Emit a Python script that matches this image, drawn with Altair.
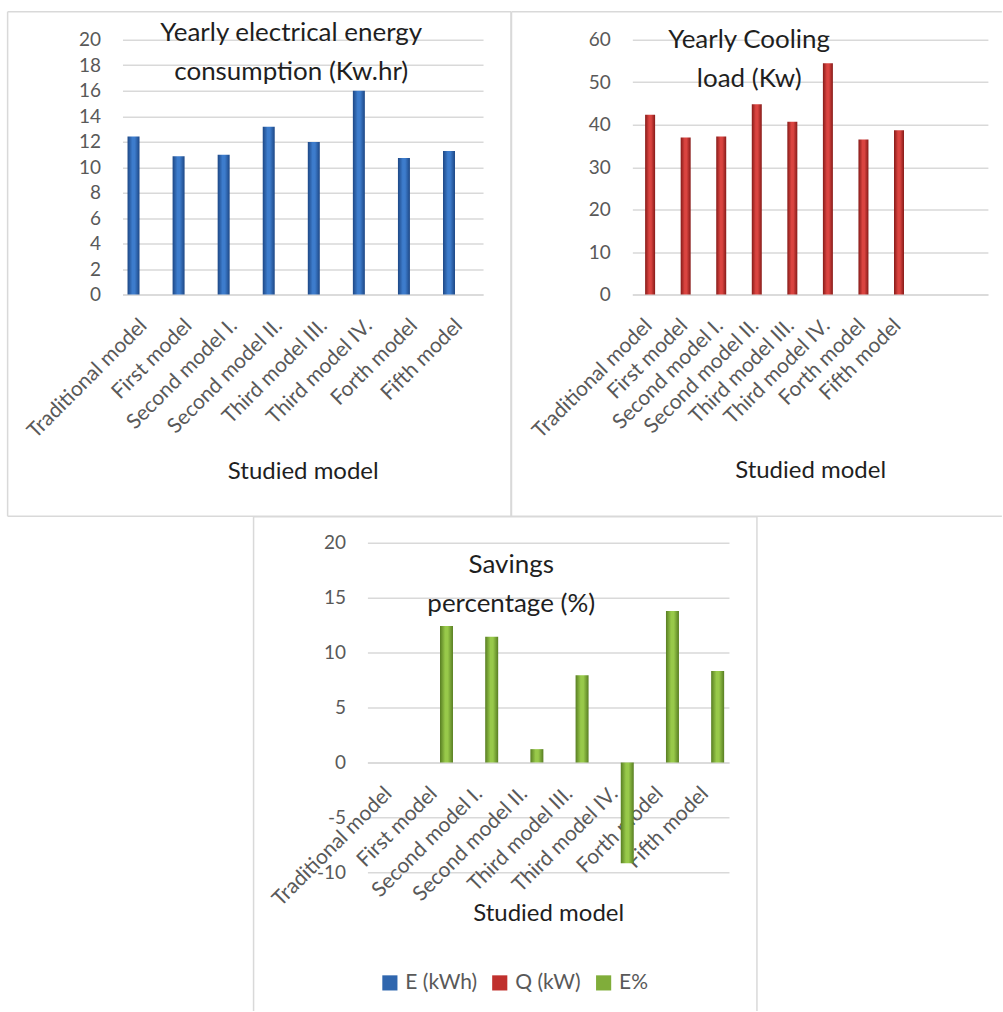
import altair as alt
import pandas as pd

# Studied building models and the three yearly results
models = ["Traditional model", "First model", "Second model I.", "Second model II.",
          "Third model III.", "Third model IV.", "Forth model", "Fifth model"]
energy_kwh = [12.4, 10.85, 10.98, 13.18, 11.98, 16.0, 10.72, 11.27]
cooling_kw = [42.35, 37.0, 37.2, 44.8, 40.7, 54.5, 36.5, 38.7]
savings_pct = [0.0, 12.42, 11.45, 1.21, 7.94, -9.18, 13.79, 8.33]

series_names = ["E (kWh)", "Q (kW)", "E%"]
series_colors = ["#2f66ae", "#c0302d", "#80ad3a"]

energy_ticks = [0, 2, 4, 6, 8, 10, 12, 14, 16, 18, 20]
cooling_ticks = [0, 10, 20, 30, 40, 50, 60]
savings_ticks = [-10, -5, 0, 5, 10, 15, 20]

# the cooling chart keeps two trailing empty category slots
cooling_slots = models + [" ", "  "]

FONT = "Lato"
LABEL_GREY = "#595959"
GRID_GREY = "#d9d9d9"
TEXT_DARK = "#1f1f1f"


def bevel(dark, light):
    return alt.LinearGradient(
        gradient="linear", x1=0, x2=1, y1=0, y2=0,
        stops=[alt.GradientStop(offset=0, color=dark),
               alt.GradientStop(offset=0.4, color=light),
               alt.GradientStop(offset=0.6, color=light),
               alt.GradientStop(offset=1, color=dark)])


def single_row():
    return alt.Data(values=[{"k": 0}])


def edge(x1, x2, y1, y2, color=GRID_GREY):
    """One straight border line of a chart box, in pixels of the plot area."""
    return alt.Chart(single_row()).mark_rule(
        color=color, strokeWidth=1.5).encode(
        x=alt.value(x1), x2=alt.value(x2), y=alt.value(y1), y2=alt.value(y2))


def box(left, right, top, bottom, sides="tblr"):
    parts = []
    if "t" in sides:
        parts.append(edge(left, right, top, top))
    if "b" in sides:
        parts.append(edge(left, right, bottom, bottom))
    if "l" in sides:
        parts.append(edge(left, left, top, bottom))
    if "r" in sides:
        parts.append(edge(right, right, top, bottom))
    return parts


def bar_panel(values, domain, ticks, fill, bar_size, shift,
              title_lines, title_x, title_y, axis_offset, axis_title_y):
    df = pd.DataFrame({"model": models, "value": values})
    x = alt.X(
        "model:N", sort=domain,
        scale=alt.Scale(domain=domain, paddingInner=0, paddingOuter=0),
        axis=alt.Axis(title="Studied model", labelAngle=-45, labelColor=LABEL_GREY,
                      labelFontSize=21, labelFont=FONT, labelPadding=20,
                      labelOffset=-9, labelAlign="right", labelBaseline="top",
                      ticks=False, domain=True, domainColor=GRID_GREY, domainWidth=1.5,
                      offset=axis_offset, titleFont=FONT, titleFontSize=24,
                      titleFontWeight="normal", titleColor=TEXT_DARK,
                      titleY=axis_title_y, titleBaseline="middle"))
    y = alt.Y(
        "value:Q",
        scale=alt.Scale(domain=[ticks[0], ticks[-1]], nice=False, zero=False),
        axis=alt.Axis(title=None, values=ticks, labelExpr="'' + datum.value",
                      labelColor=LABEL_GREY, labelFontSize=19, labelFont=FONT,
                      labelPadding=22, ticks=False, domain=False,
                      gridColor=GRID_GREY, gridWidth=1.5))
    bars = alt.Chart(df).mark_bar(fill=fill, size=bar_size, xOffset=shift).encode(x=x, y=y)
    heading = alt.Chart(single_row()).mark_text(
        font=FONT, fontSize=26, color=TEXT_DARK, lineHeight=39,
        align="center", baseline="middle").encode(
        x=alt.value(title_x), y=alt.value(title_y), text=alt.value(title_lines))
    return bars, heading


b1, h1 = bar_panel(energy_kwh, models, energy_ticks,
                   bevel("#1d4785", "#3d7ccc"), 12, -11.5,
                   ["Yearly electrical energy", "consumption (Kw.hr)"], 169, -7,
                   0, 177)
energy_chart = alt.layer(*box(-115, 389, -28, 477), b1, h1).properties(width=361, height=255)

b2, h2 = bar_panel(cooling_kw, cooling_slots, cooling_ticks,
                   bevel("#861a18", "#da4440"), 10, 0,
                   ["Yearly Cooling", "load (Kw)"], 117, 0,
                   0, 176)
cooling_chart = alt.layer(*box(-121, 370, -28, 477, "tbl"), b2, h2).properties(
    width=356, height=255)

b3, h3 = bar_panel(savings_pct, models, savings_ticks,
                   bevel("#587e22", "#98c94a"), 13, 11.3,
                   ["Savings", "percentage (%)"], 144, 22,
                   -110, 151)

legend_df = pd.DataFrame({"series": series_names})
legend_layer = alt.Chart(legend_df).mark_square(opacity=0).encode(
    color=alt.Color("series:N", sort=series_names,
                    scale=alt.Scale(domain=series_names, range=series_colors),
                    legend=alt.Legend(title=None, orient="none", direction="horizontal",
                                      legendX=12, legendY=430, symbolType="square",
                                      symbolSize=230, symbolOpacity=1, symbolStrokeWidth=0,
                                      labelFont=FONT, labelFontSize=21,
                                      labelColor=LABEL_GREY, labelOffset=5,
                                      columnPadding=12)))
# a short white line on the white page widens the lower chart a little,
# so that centring it under the upper row puts its box in place
widener = edge(-123, -123, -20, 0, color="white")
savings_chart = alt.layer(
    *box(-114, 390, -26, 469, "tlr"), widener,
    b3, h3, legend_layer).properties(width=362, height=330)

top_row = alt.hconcat(energy_chart, cooling_chart, spacing=-1.5)

chart = alt.vconcat(top_row, savings_chart, spacing=-1.5, center=True).resolve_scale(
    color="independent").resolve_legend(color="independent").properties(
    padding={"left": 6.25, "top": 10.25, "right": 0, "bottom": 0},
    background="white",
).configure_view(stroke=None)

chart.save("out.html", embed_options={"renderer": "svg", "actions": False})
